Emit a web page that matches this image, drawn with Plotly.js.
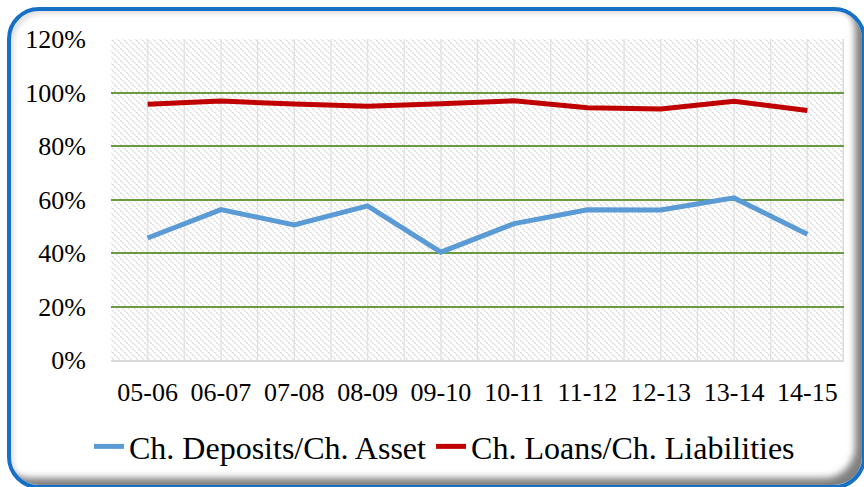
<!DOCTYPE html>
<html>
<head>
<meta charset="utf-8">
<script src="https://cdn.plot.ly/plotly-3.0.1.min.js"></script>
<style>
  html, body { margin: 0; padding: 0; background: #ffffff; width: 864px; height: 487px; overflow: hidden; }
  #frame { position: absolute; left: 7px; top: 7px; width: 859px; height: 482px; box-sizing: border-box;
           border: 4px solid #1670c6; border-radius: 32px; background: #ffffff;
           box-shadow: inset -10px -10px 7px -3px rgba(0,0,0,0.5), inset 4px 4px 5px -1px rgba(0,0,0,0.12); }
  #chart { position: absolute; left: 0; top: 0; width: 864px; height: 487px; }
</style>
</head>
<body>
<div id="frame"></div>
<div id="chart"></div>
<script>
const categories = ["05-06", "06-07", "07-08", "08-09", "09-10", "10-11", "11-12", "12-13", "13-14", "14-15"];
const depositsAsset = [0.456, 0.562, 0.505, 0.576, 0.403, 0.510, 0.562, 0.561, 0.606, 0.470];
const loansLiabilities = [0.956, 0.968, 0.957, 0.949, 0.958, 0.969, 0.943, 0.938, 0.967, 0.933];
const seriesNames = ["Ch. Deposits/Ch. Asset", "Ch. Loans/Ch. Liabilities"];
const yTickVals = [0, 0.2, 0.4, 0.6, 0.8, 1.0, 1.2];
const yTickText = ["0%", "20%", "40%", "60%", "80%", "100%", "120%"];

// background hatch pattern for the plot area
const W = 733, H = 321;
let verts = "";
for (let i = 1; i < 20; i++) {
  const x = (i * W / 20).toFixed(1);
  verts += `<line x1="${x}" y1="0" x2="${x}" y2="${H}" stroke="#e3e3e3" stroke-width="1.5"/>`;
}
const svg = `<svg xmlns="http://www.w3.org/2000/svg" width="${W}" height="${H}" viewBox="0 0 ${W} ${H}" preserveAspectRatio="none">
<defs><pattern id="p" patternUnits="userSpaceOnUse" width="6" height="6">
<path d="M-1,-1 L7,7 M-1,5 L1,7 M5,-1 L7,1" stroke="#d9d9d9" stroke-width="1.4" stroke-dasharray="2,1"/>
</pattern></defs>
<rect width="${W}" height="${H}" fill="#ffffff"/>
<rect width="${W}" height="${H}" fill="url(#p)"/>
${verts}
<line x1="${W-0.75}" y1="0" x2="${W-0.75}" y2="${H}" stroke="#dcdcdc" stroke-width="1.5"/>
</svg>`;
const bgSrc = "data:image/svg+xml;charset=utf-8," + encodeURIComponent(svg);

const font = "Liberation Serif, Times New Roman, serif";

const traces = [
  { x: categories, y: depositsAsset, name: seriesNames[0], type: "scatter", mode: "lines",
    line: { color: "#5b9bd5", width: 5 } },
  { x: categories, y: loansLiabilities, name: seriesNames[1], type: "scatter", mode: "lines",
    line: { color: "#c00000", width: 5 } }
];

const layout = {
  width: 864, height: 487,
  margin: { l: 111, r: 20, t: 39, b: 127 },
  paper_bgcolor: "rgba(0,0,0,0)",
  plot_bgcolor: "rgba(0,0,0,0)",
  font: { family: font, size: 26, color: "#000000" },
  showlegend: true,
  legend: { orientation: "h", x: 0.455, xanchor: "center", yref: "container", y: 0.083, yanchor: "middle",
            font: { family: font, size: 32, color: "#000000" }, bgcolor: "rgba(0,0,0,0)", itemwidth: 30,
            tracegroupgap: 0 },
  xaxis: { type: "category", range: [-0.5, 9.5], showgrid: false, zeroline: false, showline: true, linecolor: "#d9d9d9", linewidth: 2,
           ticks: "", ticklabelstandoff: 8, tickfont: { family: font, size: 26, color: "#000" }, fixedrange: true },
  yaxis: { range: [0, 1.2], tickvals: yTickVals, ticktext: yTickText, showgrid: true, gridcolor: "#6b9a43", gridwidth: 2,
           zeroline: false, showline: false, ticks: "", ticklabelstandoff: 24,
           tickfont: { family: font, size: 26, color: "#000" }, fixedrange: true },
  images: [{ source: bgSrc, xref: "paper", yref: "paper", x: 0, y: 1, sizex: 1, sizey: 1,
             xanchor: "left", yanchor: "top", sizing: "stretch", layer: "below" }]
};

Plotly.newPlot("chart", traces, layout, { displayModeBar: false, staticPlot: true });
</script>
</body>
</html>
